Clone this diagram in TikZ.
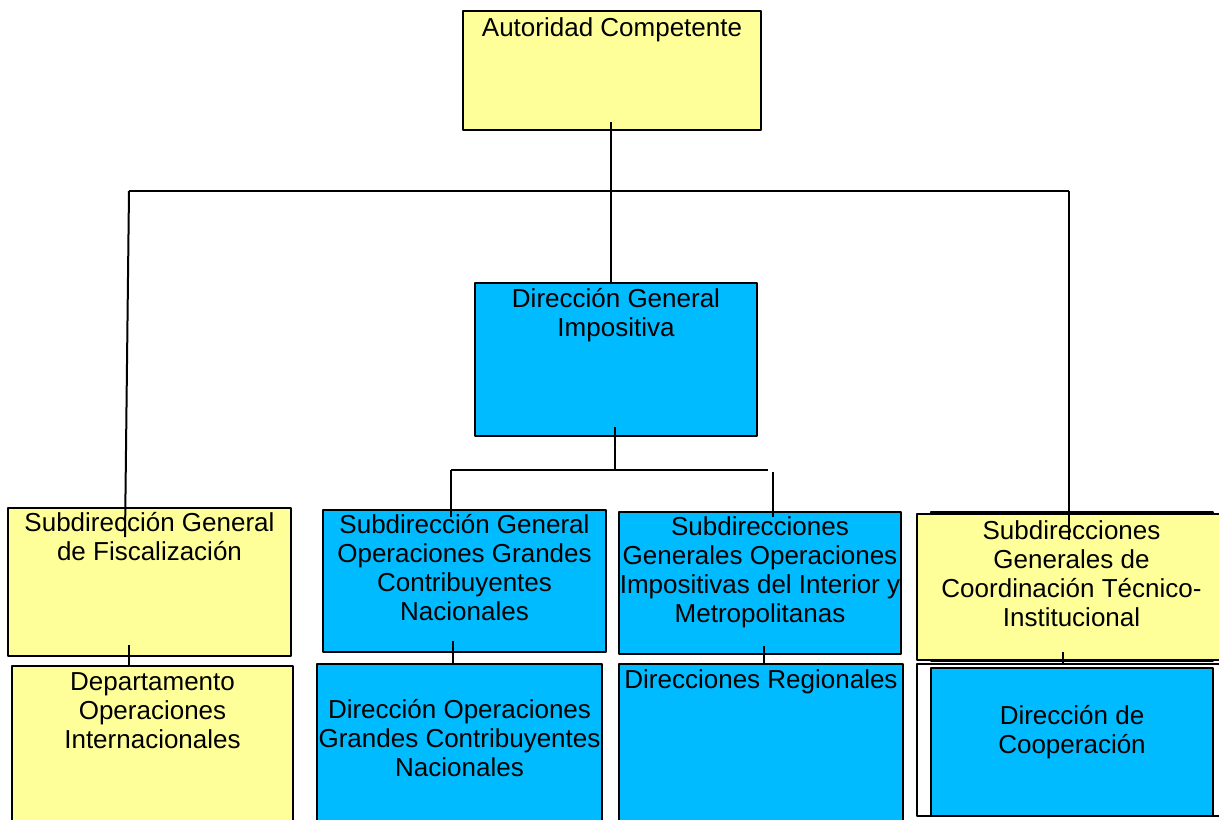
\documentclass[tikz,border=0pt]{standalone}
\usepackage{fontspec}
\setmainfont{Liberation Sans}
\definecolor{amarillo}{HTML}{FFFF99}
\definecolor{celeste}{HTML}{00BBFF}
\begin{document}
\begin{tikzpicture}[x=0.5pt, y=-0.5pt, font=\fontsize{13}{14.5}\selectfont, line join=round,
	caja/.style={draw=black, line width=1pt, inner sep=0pt, anchor=north west},
	ama/.style={caja, fill=amarillo},
	cel/.style={caja, fill=celeste},
	txt/.style={anchor=north, align=center, inner sep=0pt},
	lin/.style={line width=1pt}]
	\useasboundingbox (0,0) rectangle (1219,819);
	% cajas
	\node[ama, minimum width=149pt, minimum height=59.5pt] (aut) at (462,10) {};
	\node[cel, minimum width=141pt, minimum height=76.5pt] (dgi) at (474,282) {};
	\node[ama, minimum width=141.5pt, minimum height=74pt] (fis) at (7,507) {};
	\node[ama, minimum width=140.5pt, minimum height=85pt] (dep) at (11,665) {};
	\node[cel, minimum width=141.5pt, minimum height=71pt] (sgo) at (322,509) {};
	\node[cel, minimum width=142.5pt, minimum height=85pt] (dog) at (316,663) {};
	\node[cel, minimum width=141pt, minimum height=71pt] (sgi) at (618,511) {};
	\node[cel, minimum width=142pt, minimum height=85pt] (dre) at (618,663) {};
	\node[caja, fill=white, minimum width=141pt, minimum height=74.5pt] (sctB) at (930,511) {};
	\node[ama, minimum width=154.5pt, minimum height=73pt] (sct) at (916,513) {};
	\node[caja, fill=white, minimum width=154.5pt, minimum height=76pt] (dcoB) at (916,663) {};
	\node[cel, minimum width=141pt, minimum height=74pt] (dco) at (930,667) {};
	% textos
	\node[txt] (autT) at ([yshift=-3.5pt]aut.north) {Autoridad Competente};
	\node[txt] (dgiT) at ([yshift=-3pt]dgi.north) {Dirección General\\Impositiva};
	\node[txt] (fisT) at ([yshift=-2.5pt]fis.north) {Subdirección General\\de Fiscalización};
	\node[txt] (depT) at ([yshift=-3.5pt]dep.north) {Departamento\\Operaciones\\Internacionales};
	\node[txt] (sgoT) at ([yshift=-2.5pt]sgo.north) {Subdirección General\\Operaciones Grandes\\Contribuyentes\\Nacionales};
	\node[txt] (dogT) at ([yshift=-18pt]dog.north) {Dirección Operaciones\\Grandes Contribuyentes\\Nacionales};
	\node[txt] (sgiT) at ([yshift=-2.5pt]sgi.north) {Subdirecciones\\Generales Operaciones\\Impositivas del Interior y\\Metropolitanas};
	\node[txt] (dreT) at ([yshift=-3pt]dre.north) {Direcciones Regionales};
	\node[txt] (sctT) at ([yshift=-3.5pt]sct.north) {Subdirecciones\\Generales de\\Coordinación Técnico-\\Institucional};
	\node[txt] (dcoT) at ([yshift=-19pt]dco.north) {Dirección de\\Cooperación};
	% conectores
	\coordinate (bi) at (129,191); \coordinate (bd) at (1069,191);
	\coordinate (fisE) at (125,537); \coordinate (sctE) at (1069,540);
	\draw[lin] ([xshift=-0.5pt,yshift=4.5pt]aut.south) -- ([xshift=-0.5pt]aut.south |- dgi.north);
	\draw[lin] (bi) -- (bd);
	\draw[lin] (bi) -- (fisE);
	\draw[lin] (bd) -- (sctE);
	\coordinate (ci) at (451,470); \coordinate (cd) at (768,470);
	\coordinate (sgoE) at (451,517); \coordinate (sgiA) at (773,472); \coordinate (sgiE) at (773,517);
	\draw[lin] ([xshift=-0.5pt,yshift=5pt]dgi.south) -- ([xshift=-0.5pt]dgi.south |- ci);
	\draw[lin] (ci) -- (cd);
	\draw[lin] (ci) -- (sgoE);
	\draw[lin] (sgiA) -- (sgiE);
	\foreach \x/\y/\b in {129/645/dep, 453/641/dog, 764/646/dre, 1063/652/dcoB}{
		\path (\x,\y) coordinate (p);
		\draw[lin] (p) -- (p |- \b.north);
	}
\end{tikzpicture}
\end{document}
